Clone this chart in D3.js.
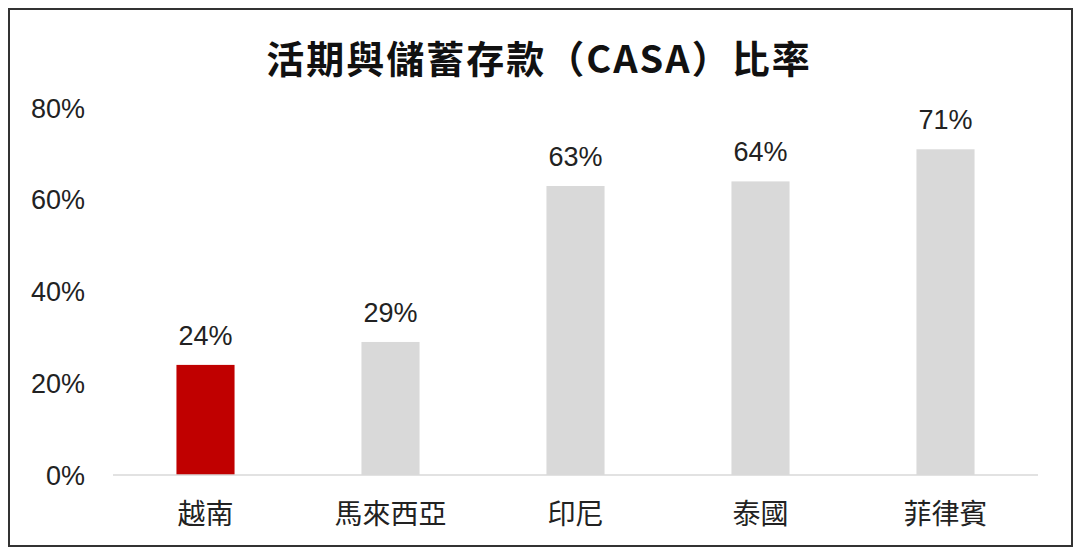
<!DOCTYPE html>
<html>
<head>
<meta charset="utf-8">
<script src="https://cdn.jsdelivr.net/npm/d3@7"></script>
<style>
  body { margin: 0; background: #fff; }
  svg { display: block; font-family: "Noto Sans CJK TC", "Liberation Sans", sans-serif; }
</style>
</head>
<body>
<div id="chart"></div>
<script>
// CASA ratio by country
const countries = ['越南', '馬來西亞', '印尼', '泰國', '菲律賓'];
const casa = [24, 29, 63, 64, 71];
const yTicks = [0, 20, 40, 60, 80];
const barColors = ['#c00000', '#d9d9d9', '#d9d9d9', '#d9d9d9', '#d9d9d9'];

const width = 1080, height = 552;
const svg = d3.select('#chart').append('svg')
  .attr('width', width)
  .attr('height', height);

// outer frame
svg.append('rect')
  .attr('x', 9).attr('y', 9)
  .attr('width', 1063).attr('height', 537)
  .style('fill', '#fff')
  .style('stroke', '#333')
  .style('stroke-width', 2);

svg.append('text')
  .attr('x', 539).attr('y', 73)
  .attr('text-anchor', 'middle')
  .style('font-size', '38px')
  .style('font-weight', 'bold')
  .style('letter-spacing', '2px')
  .style('fill', '#111')
  .text('活期與儲蓄存款（CASA）比率');

let x = d3.scaleBand()
  .domain(countries)
  .range([113, 1038])
  .paddingInner(0.686)
  .paddingOuter(0.343);

let y = d3.scaleLinear()
  .domain([0, 80])
  .range([475, 108]);

// y tick labels only, no axis line
svg.append('g')
  .attr('class', 'axis axis-y')
  .selectAll('text')
  .data(yTicks)
.enter().append('text')
  .attr('x', 85)
  .attr('y', function(d) { return y(d); })
  .attr('dy', '0.36em')
  .attr('text-anchor', 'end')
  .style('font-family', '"Liberation Sans", Arial, sans-serif')
  .style('font-size', '27px')
  .style('fill', '#222')
  .text(function(d) { return d + '%'; });

svg.selectAll('.bar')
  .data(casa)
.enter().append('rect')
  .attr('class', 'bar')
  .attr('x', function(d, i) { return x(countries[i]); })
  .attr('y', function(d) { return y(d); })
  .attr('width', x.bandwidth())
  .attr('height', function(d) { return y(0) - y(d); })
  .style('fill', function(d, i) { return barColors[i]; });

// baseline
svg.append('line')
  .attr('x1', 113).attr('x2', 1038)
  .attr('y1', y(0)).attr('y2', y(0))
  .style('stroke', '#d9d9d9')
  .style('stroke-width', 1.5);

svg.selectAll('.value')
  .data(casa)
.enter().append('text')
  .attr('class', 'value')
  .attr('x', function(d, i) { return x(countries[i]) + x.bandwidth() / 2; })
  .attr('y', function(d) { return y(d) - 20; })
  .attr('text-anchor', 'middle')
  .style('font-family', '"Liberation Sans", Arial, sans-serif')
  .style('font-size', '27px')
  .style('fill', '#222')
  .text(function(d) { return d + '%'; });

svg.selectAll('.cat')
  .data(countries)
.enter().append('text')
  .attr('class', 'cat')
  .attr('x', function(d) { return x(d) + x.bandwidth() / 2; })
  .attr('y', 524)
  .attr('text-anchor', 'middle')
  .style('font-size', '28px')
  .style('fill', '#222')
  .text(function(d) { return d; });
</script>
</body>
</html>
